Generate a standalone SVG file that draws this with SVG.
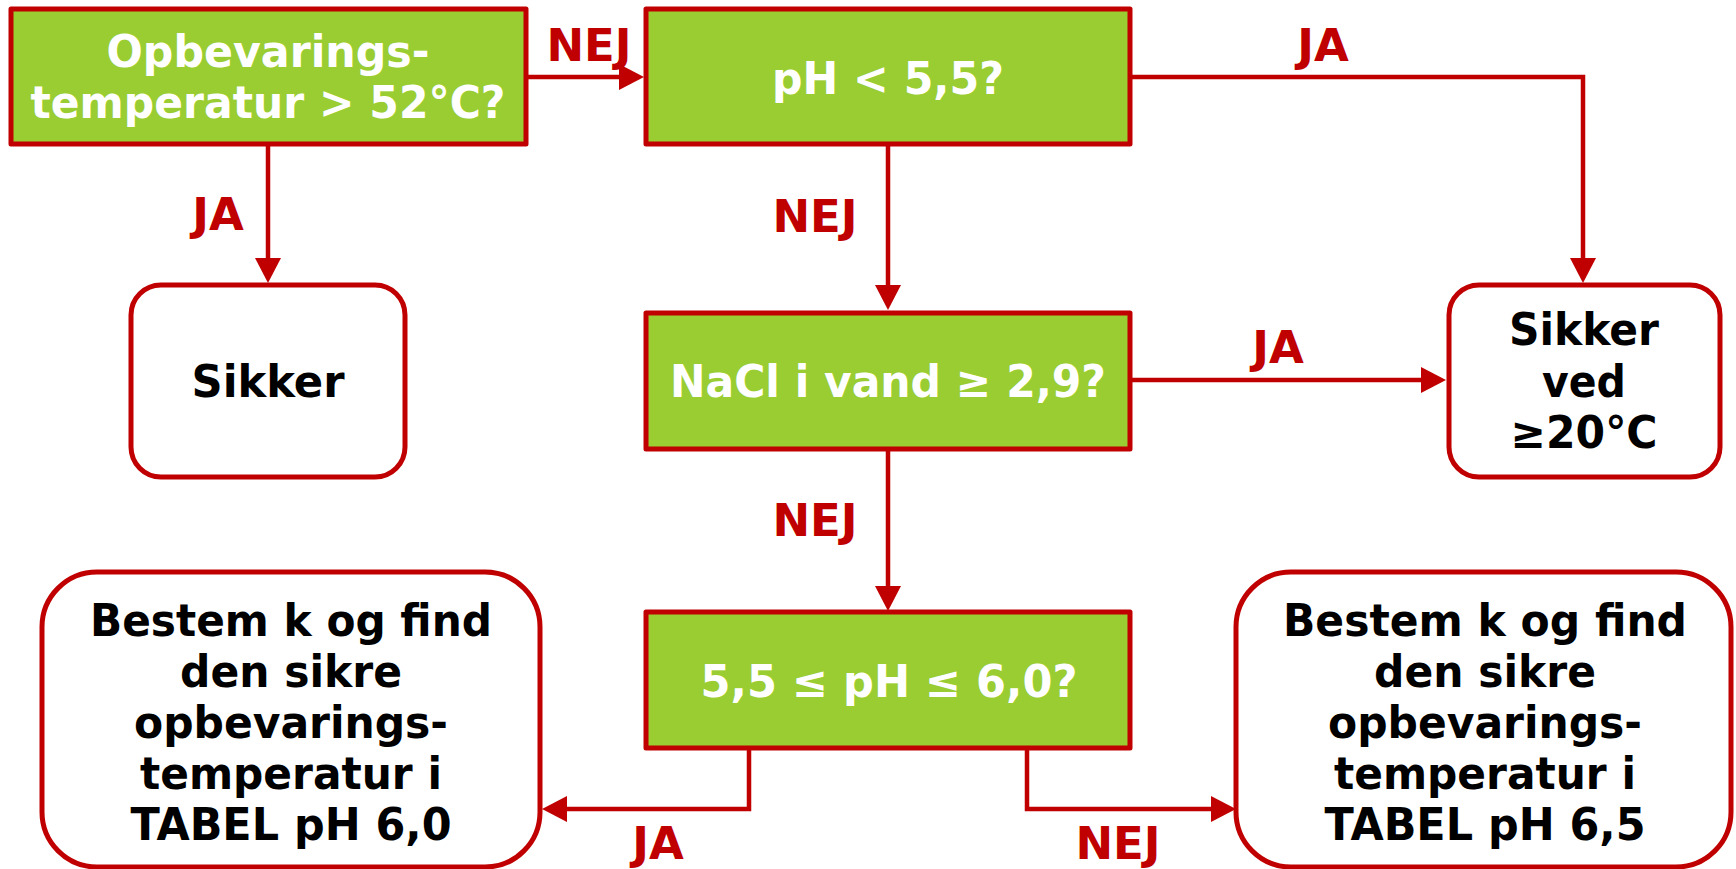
<svg xmlns="http://www.w3.org/2000/svg" width="1736" height="869" viewBox="0 0 1736 869">
<style>
.dec{fill:#9ACD32;stroke:#C00000;stroke-width:5;stroke-linejoin:round}
.end{fill:#FFFFFF;stroke:#C00000;stroke-width:5}
.t{font-family:"DejaVu Sans","Verdana",sans-serif;font-weight:bold;font-size:44px;text-anchor:middle}
.w{fill:#FFFFFF}
.k{fill:#000000}
.lbl{font-family:"DejaVu Sans","Verdana",sans-serif;font-weight:bold;font-size:45px;text-anchor:middle;fill:#C00000}
.c{fill:none;stroke:#C00000;stroke-width:4.5;stroke-linejoin:miter;marker-end:url(#arr)}
</style>
<defs>
<marker id="arr" markerUnits="userSpaceOnUse" markerWidth="26" markerHeight="27" refX="0" refY="13" orient="auto" viewBox="0 0 26 27">
<path d="M0,0 L25,13 L0,26 z" fill="#C00000"/>
</marker>
</defs>
<rect width="1736" height="869" fill="#FFFFFF"/>

<g id="connectors">
<path class="c" d="M527,77 H619"/>
<path class="c" d="M268,146 V258"/>
<path class="c" d="M1130,77 H1583 V258"/>
<path class="c" d="M888,146 V285"/>
<path class="c" d="M1130,380 H1421"/>
<path class="c" d="M888,450 V586"/>
<path class="c" d="M749,749 V809 H567"/>
<path class="c" d="M1027,749 V809 H1211"/>
<text class="lbl" x="589" y="61">NEJ</text>
<text class="lbl" x="1323" y="61">JA</text>
<text class="lbl" x="218" y="230">JA</text>
<text class="lbl" x="815" y="232">NEJ</text>
<text class="lbl" x="1278" y="363">JA</text>
<text class="lbl" x="815" y="536">NEJ</text>
<text class="lbl" x="658" y="859">JA</text>
<text class="lbl" x="1118" y="859">NEJ</text>
</g>

<g id="n1">
<rect class="dec" x="11" y="9" width="515" height="135"/>
<text class="t w" x="268" y="67" textLength="323" lengthAdjust="spacingAndGlyphs">Opbevarings-</text>
<text class="t w" x="268" y="118" textLength="475" lengthAdjust="spacingAndGlyphs">temperatur &gt; 52°C?</text>
</g>

<g id="n2">
<rect class="dec" x="646" y="9" width="484" height="135"/>
<text class="t w" x="888" y="94" textLength="232" lengthAdjust="spacingAndGlyphs">pH &lt; 5,5?</text>
</g>

<g id="n3">
<rect class="dec" x="646" y="313" width="484" height="136"/>
<text class="t w" x="888" y="397" textLength="436" lengthAdjust="spacingAndGlyphs">NaCl i vand ≥ 2,9?</text>
</g>

<g id="n4">
<rect class="dec" x="646" y="612" width="484" height="136"/>
<text class="t w" x="889" y="697" textLength="377" lengthAdjust="spacingAndGlyphs">5,5 ≤ pH ≤ 6,0?</text>
</g>

<g id="n5">
<rect class="end" x="131" y="285" width="274" height="192" rx="30" ry="30"/>
<text class="t k" x="268" y="397" textLength="153" lengthAdjust="spacingAndGlyphs">Sikker</text>
</g>

<g id="n6">
<rect class="end" x="1449" y="285" width="271" height="192" rx="30" ry="30"/>
<text class="t k" x="1584" y="345" textLength="150" lengthAdjust="spacingAndGlyphs">Sikker</text>
<text class="t k" x="1584" y="397" textLength="84" lengthAdjust="spacingAndGlyphs">ved</text>
<text class="t k" x="1584" y="448" textLength="147" lengthAdjust="spacingAndGlyphs">≥20°C</text>
</g>

<g id="n7">
<rect class="end" x="42" y="572" width="498" height="295" rx="55" ry="55"/>
<text class="t k" x="291" y="636" textLength="402" lengthAdjust="spacingAndGlyphs">Bestem k og find</text>
<text class="t k" x="291" y="687" textLength="222" lengthAdjust="spacingAndGlyphs">den sikre</text>
<text class="t k" x="291" y="738" textLength="314" lengthAdjust="spacingAndGlyphs">opbevarings-</text>
<text class="t k" x="291" y="789" textLength="302" lengthAdjust="spacingAndGlyphs">temperatur i</text>
<text class="t k" x="291" y="840" textLength="321" lengthAdjust="spacingAndGlyphs">TABEL pH 6,0</text>
</g>

<g id="n8">
<rect class="end" x="1236" y="572" width="495" height="295" rx="55" ry="55"/>
<text class="t k" x="1485" y="636" textLength="404" lengthAdjust="spacingAndGlyphs">Bestem k og find</text>
<text class="t k" x="1485" y="687" textLength="222" lengthAdjust="spacingAndGlyphs">den sikre</text>
<text class="t k" x="1485" y="738" textLength="314" lengthAdjust="spacingAndGlyphs">opbevarings-</text>
<text class="t k" x="1485" y="789" textLength="302" lengthAdjust="spacingAndGlyphs">temperatur i</text>
<text class="t k" x="1485" y="840" textLength="321" lengthAdjust="spacingAndGlyphs">TABEL pH 6,5</text>
</g>
</svg>
